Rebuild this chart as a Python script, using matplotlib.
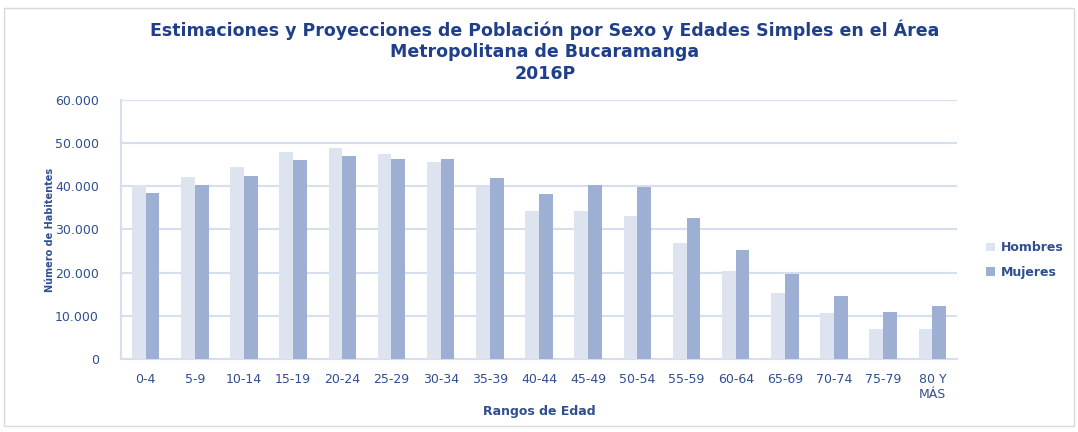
import numpy as np
import matplotlib.pyplot as plt
from matplotlib.patches import Rectangle
from matplotlib.ticker import FuncFormatter

# Datos
rangos = ['0-4', '5-9', '10-14', '15-19', '20-24', '25-29', '30-34', '35-39',
          '40-44', '45-49', '50-54', '55-59', '60-64', '65-69', '70-74',
          '75-79', '80 Y\nMÁS']
hombres = [40400, 42200, 44500, 47900, 48800, 47600, 45700, 39900, 34400,
           34400, 33200, 26800, 20400, 15200, 10700, 7000, 6950]
mujeres = [38500, 40400, 42500, 46100, 47100, 46400, 46400, 41900, 38200,
           40300, 39800, 32700, 25300, 19800, 14600, 11000, 12300]

c_hom = '#dde3ef'
c_muj = '#9dafd2'
c_txt = '#2f4f8f'
c_grid = '#d6dff0'

fig = plt.figure(figsize=(10.78, 4.32), dpi=100)
ax = fig.add_axes([121 / 1078, 1 - 359 / 432, (957 - 121) / 1078, (359 - 100) / 432])

x = np.arange(len(rangos))
w = 0.28
ax.bar(x - w / 2, hombres, w, color=c_hom, label='Hombres', zorder=3)
ax.bar(x + w / 2, mujeres, w, color=c_muj, label='Mujeres', zorder=3)

ax.set_xlim(-0.5, len(rangos) - 0.5)
ax.set_ylim(0, 60000)
ax.set_yticks(np.arange(0, 60001, 10000))
ax.yaxis.set_major_formatter(FuncFormatter(lambda v, p: f'{int(v):,}'.replace(',', '.')))
ax.set_xticks(x)
ax.set_xticklabels(rangos)
ax.grid(axis='y', color=c_grid, linewidth=1.5, zorder=0)
for s in ['top', 'right']:
    ax.spines[s].set_visible(False)
for s in ['left', 'bottom']:
    ax.spines[s].set_color(c_grid)
    ax.spines[s].set_linewidth(1.5)
ax.tick_params(length=0, colors=c_txt, labelsize=9)
ax.tick_params(axis='y', pad=16)
ax.tick_params(axis='x', pad=10)

ax.set_xlabel('Rangos de Edad', color=c_txt, fontsize=9, fontweight='bold', labelpad=3)
ax.set_ylabel('Número de Habitentes', color=c_txt, fontsize=7, fontweight='bold', labelpad=0)

titulo = ['Estimaciones y Proyecciones de Población por Sexo y Edades Simples en el Área',
          'Metropolitana de Bucaramanga', '2016P']
for i, linea in enumerate(titulo):
    fig.text(545 / 1078, 1 - (30 + 22 * i) / 432, linea, ha='center', va='center',
             color='#1f3f8a', fontsize=12.5, fontweight='bold')

leg = fig.legend(loc='center left', bbox_to_anchor=(975 / 1078, 1 - 260 / 432), frameon=False,
                 handlelength=0.7, handleheight=0.7, handletextpad=0.5, labelspacing=0.9,
                 prop={'size': 9, 'weight': 'bold'})
for t in leg.get_texts():
    t.set_color(c_txt)

fig.patches.append(Rectangle((4 / 1078, 6 / 432), 1 - 8 / 1078, 1 - 14 / 432, transform=fig.transFigure,
                             fill=False, edgecolor='#d9d9d9', linewidth=1))

fig.savefig('out.png', dpi=100)
